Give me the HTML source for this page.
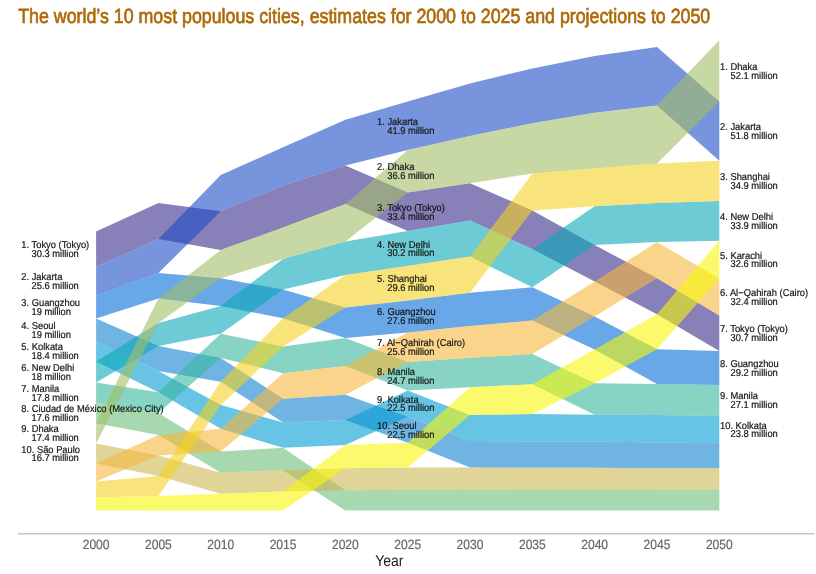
<!DOCTYPE html>
<html><head><meta charset="utf-8"><style>
html,body{margin:0;padding:0;background:#fff;}
body{width:816px;height:574px;overflow:hidden;position:relative;}
svg{position:absolute;left:0;top:0;}
text{text-rendering:geometricPrecision;}
.lb{font-family:"Liberation Sans",sans-serif;font-size:10px;fill:#151515;stroke:#151515;stroke-width:0.2px;}
.tk{font-family:"Liberation Sans",sans-serif;font-size:13.4px;fill:#666;stroke:#666;stroke-width:0.2px;}
.yr{font-family:"Liberation Sans",sans-serif;font-size:15.7px;fill:#222;}
.ti{font-family:"Liberation Sans",sans-serif;font-size:20.5px;font-weight:normal;fill:#ae6a08;stroke:#ae6a08;stroke-width:0.7px;}
</style></head><body>
<svg width="816" height="574" viewBox="0 0 816 574">
<polygon points="96.10,231.40 158.42,202.90 220.74,211.30 283.06,185.60 345.38,165.50 407.70,192.40 470.02,183.20 532.34,210.40 594.66,245.00 656.98,278.30 719.30,315.40 719.30,351.10 656.98,314.30 594.66,281.60 532.34,249.00 470.02,220.60 407.70,231.10 345.38,204.10 283.06,227.40 220.74,250.00 158.42,239.10 96.10,266.70" fill="rgb(57,43,137)" fill-opacity="0.6"/><polygon points="96.10,266.70 158.42,239.10 220.74,175.10 283.06,147.20 345.38,119.80 407.70,101.50 470.02,83.50 532.34,68.40 594.66,55.90 656.98,47.10 719.30,101.50 719.30,160.70 656.98,105.60 594.66,112.80 532.34,123.30 470.02,136.00 407.70,150.00 345.38,165.50 283.06,185.60 220.74,211.30 158.42,273.10 96.10,295.70" fill="rgb(30,77,197)" fill-opacity="0.6"/><polygon points="96.10,295.70 158.42,273.10 220.74,278.30 283.06,289.60 345.38,307.60 407.70,300.40 470.02,292.80 532.34,287.20 594.66,316.60 656.98,349.30 719.30,351.10 719.30,384.90 656.98,384.00 594.66,349.60 532.34,320.60 470.02,326.00 407.70,332.40 345.38,338.00 283.06,318.20 220.74,306.00 158.42,298.50 96.10,318.40" fill="rgb(3,110,217)" fill-opacity="0.6"/><polygon points="96.10,318.40 158.42,346.10 220.74,357.90 283.06,398.70 345.38,394.80 407.70,416.70 470.02,441.00 532.34,441.60 594.66,441.60 656.98,442.40 719.30,443.20 719.30,468.30 656.98,468.30 594.66,467.80 532.34,467.80 470.02,467.60 407.70,442.80 345.38,420.00 283.06,422.40 220.74,381.80 158.42,371.10 96.10,341.00" fill="rgb(17,130,210)" fill-opacity="0.6"/><polygon points="96.10,341.00 158.42,371.10 220.74,405.00 283.06,422.40 345.38,420.00 407.70,390.60 470.02,415.00 532.34,414.10 594.66,414.80 656.98,415.00 719.30,416.00 719.30,443.20 656.98,442.40 594.66,441.60 532.34,441.60 470.02,441.00 407.70,416.70 345.38,445.00 283.06,447.70 220.74,428.80 158.42,392.30 96.10,361.40" fill="rgb(3,157,210)" fill-opacity="0.6"/><polygon points="96.10,361.40 158.42,322.90 220.74,306.00 283.06,259.00 345.38,241.50 407.70,231.10 470.02,220.60 532.34,249.00 594.66,206.30 656.98,203.00 719.30,200.90 719.30,240.70 656.98,242.10 594.66,245.00 532.34,287.20 470.02,256.60 407.70,266.10 345.38,275.00 283.06,289.60 220.74,333.70 158.42,346.10 96.10,382.40" fill="rgb(10,168,183)" fill-opacity="0.6"/><polygon points="96.10,382.40 158.42,392.30 220.74,333.70 283.06,346.60 345.38,338.00 407.70,362.00 470.02,357.70 532.34,354.10 594.66,383.30 656.98,384.00 719.30,384.90 719.30,416.00 656.98,415.00 594.66,414.80 532.34,384.30 470.02,387.20 407.70,390.60 345.38,366.10 283.06,373.20 220.74,357.90 158.42,413.00 96.10,403.00" fill="rgb(57,183,157)" fill-opacity="0.6"/><polygon points="96.10,403.00 158.42,413.00 220.74,451.60 283.06,447.70 345.38,490.20 407.70,489.70 470.02,489.40 532.34,489.80 594.66,489.80 656.98,489.80 719.30,489.50 719.30,510.50 656.98,510.50 594.66,510.50 532.34,510.50 470.02,510.50 407.70,510.50 345.38,510.50 283.06,470.20 220.74,472.70 158.42,435.00 96.10,423.30" fill="rgb(110,190,123)" fill-opacity="0.6"/><polygon points="96.10,423.30 158.42,298.50 220.74,250.00 283.06,227.40 345.38,204.10 407.70,150.00 470.02,136.00 532.34,123.30 594.66,112.80 656.98,105.60 719.30,40.20 719.30,101.50 656.98,163.40 594.66,168.50 532.34,173.50 470.02,183.20 407.70,192.40 345.38,241.50 283.06,259.00 220.74,278.30 158.42,322.90 96.10,443.60" fill="rgb(163,190,103)" fill-opacity="0.6"/><polygon points="96.10,443.60 158.42,455.50 220.74,472.70 283.06,470.20 345.38,468.30 407.70,467.40 470.02,467.60 532.34,467.80 594.66,467.80 656.98,468.30 719.30,468.30 719.30,489.50 656.98,489.80 594.66,489.80 532.34,489.80 470.02,489.40 407.70,489.70 345.38,490.20 283.06,491.60 220.74,493.70 158.42,476.00 96.10,463.50" fill="rgb(203,183,83)" fill-opacity="0.6"/><polygon points="96.10,463.50 158.42,435.00 220.74,428.80 283.06,373.20 345.38,366.10 407.70,332.40 470.02,326.00 532.34,320.60 594.66,281.60 656.98,242.10 719.30,278.60 719.30,315.40 656.98,278.30 594.66,316.60 532.34,354.10 470.02,357.70 407.70,362.00 345.38,394.80 283.06,398.70 220.74,451.60 158.42,455.50 96.10,481.50" fill="rgb(247,183,60)" fill-opacity="0.6"/><polygon points="96.10,481.50 158.42,476.00 220.74,381.80 283.06,318.20 345.38,275.00 407.70,266.10 470.02,256.60 532.34,173.50 594.66,168.50 656.98,163.40 719.30,160.70 719.30,200.90 656.98,203.00 594.66,206.30 532.34,210.40 470.02,292.80 407.70,300.40 345.38,307.60 283.06,346.60 220.74,405.00 158.42,496.10 96.10,497.20" fill="rgb(243,210,33)" fill-opacity="0.6"/><polygon points="96.10,497.20 158.42,496.10 220.74,493.70 283.06,491.60 345.38,445.00 407.70,442.80 470.02,387.20 532.34,384.30 594.66,349.60 656.98,314.30 719.30,240.70 719.30,278.60 656.98,349.30 594.66,383.30 532.34,414.10 470.02,415.00 407.70,467.40 345.38,468.30 283.06,510.50 220.74,510.50 158.42,510.50 96.10,510.50" fill="rgb(247,247,10)" fill-opacity="0.6"/>
<g opacity="0.999"><text x="18.2" y="22.8" class="ti" transform="translate(18.2,0) scale(0.868,1) translate(-18.2,0)">The world’s 10 most populous cities, estimates for 2000 to 2025 and projections to 2050</text><g transform="translate(21.3,0) scale(0.935,1) translate(-21.3,0)"><text x="21.3" y="248.05" class="lb">1. Tokyo (Tokyo)</text><text x="32.20909090909091" y="256.85" class="lb">30.3 million</text><text x="21.3" y="280.20" class="lb">2. Jakarta</text><text x="32.20909090909091" y="289.00" class="lb">25.6 million</text><text x="21.3" y="306.05" class="lb">3. Guangzhou</text><text x="32.20909090909091" y="314.85" class="lb">19 million</text><text x="21.3" y="328.70" class="lb">4. Seoul</text><text x="32.20909090909091" y="337.50" class="lb">19 million</text><text x="21.3" y="350.20" class="lb">5. Kolkata</text><text x="32.20909090909091" y="359.00" class="lb">18.4 million</text><text x="21.3" y="370.90" class="lb">6. New Delhi</text><text x="32.20909090909091" y="379.70" class="lb">18 million</text><text x="21.3" y="391.70" class="lb">7. Manila</text><text x="32.20909090909091" y="400.50" class="lb">17.8 million</text><text x="21.3" y="412.15" class="lb">8. Ciudad de México (Mexico City)</text><text x="32.20909090909091" y="420.95" class="lb">17.6 million</text><text x="21.3" y="432.45" class="lb">9. Dhaka</text><text x="32.20909090909091" y="441.25" class="lb">17.4 million</text><text x="21.3" y="452.55" class="lb">10. São Paulo</text><text x="32.20909090909091" y="461.35" class="lb">16.7 million</text></g><g transform="translate(377,0) scale(0.935,1) translate(-377,0)"><text x="377" y="124.75" class="lb">1. Jakarta</text><text x="387.90909090909093" y="133.55" class="lb">41.9 million</text><text x="377" y="170.20" class="lb">2. Dhaka</text><text x="387.90909090909093" y="179.00" class="lb">36.6 million</text><text x="377" y="210.75" class="lb">3. Tokyo (Tokyo)</text><text x="387.90909090909093" y="219.55" class="lb">33.4 million</text><text x="377" y="247.60" class="lb">4. New Delhi</text><text x="387.90909090909093" y="256.40" class="lb">30.2 million</text><text x="377" y="282.25" class="lb">5. Shanghai</text><text x="387.90909090909093" y="291.05" class="lb">29.6 million</text><text x="377" y="315.40" class="lb">6. Guangzhou</text><text x="387.90909090909093" y="324.20" class="lb">27.6 million</text><text x="377" y="346.20" class="lb">7. Al−Qahirah (Cairo)</text><text x="387.90909090909093" y="355.00" class="lb">25.6 million</text><text x="377" y="375.30" class="lb">8. Manila</text><text x="387.90909090909093" y="384.10" class="lb">24.7 million</text><text x="377" y="402.65" class="lb">9. Kolkata</text><text x="387.90909090909093" y="411.45" class="lb">22.5 million</text><text x="377" y="428.75" class="lb">10. Seoul</text><text x="387.90909090909093" y="437.55" class="lb">22.5 million</text></g><g transform="translate(720,0) scale(0.935,1) translate(-720,0)"><text x="720" y="69.85" class="lb">1. Dhaka</text><text x="731.2299465240642" y="78.65" class="lb">52.1 million</text><text x="720" y="130.10" class="lb">2. Jakarta</text><text x="731.2299465240642" y="138.90" class="lb">51.8 million</text><text x="720" y="179.80" class="lb">3. Shanghai</text><text x="731.2299465240642" y="188.60" class="lb">34.9 million</text><text x="720" y="219.80" class="lb">4. New Delhi</text><text x="731.2299465240642" y="228.60" class="lb">33.9 million</text><text x="720" y="258.65" class="lb">5. Karachi</text><text x="731.2299465240642" y="267.45" class="lb">32.6 million</text><text x="720" y="296.00" class="lb">6. Al−Qahirah (Cairo)</text><text x="731.2299465240642" y="304.80" class="lb">32.4 million</text><text x="720" y="332.25" class="lb">7. Tokyo (Tokyo)</text><text x="731.2299465240642" y="341.05" class="lb">30.7 million</text><text x="720" y="367.00" class="lb">8. Guangzhou</text><text x="731.2299465240642" y="375.80" class="lb">29.2 million</text><text x="720" y="399.45" class="lb">9. Manila</text><text x="731.2299465240642" y="408.25" class="lb">27.1 million</text><text x="720" y="428.60" class="lb">10. Kolkata</text><text x="731.2299465240642" y="437.40" class="lb">23.8 million</text></g>
<line x1="17.8" y1="533.7" x2="814.5" y2="533.7" stroke="#c6c6c6" stroke-width="1.5"/><text x="96.10" y="549.1" class="tk" text-anchor="middle" transform="translate(96.10,0) scale(0.9,1) translate(-96.10,0)">2000</text><text x="158.42" y="549.1" class="tk" text-anchor="middle" transform="translate(158.42,0) scale(0.9,1) translate(-158.42,0)">2005</text><text x="220.74" y="549.1" class="tk" text-anchor="middle" transform="translate(220.74,0) scale(0.9,1) translate(-220.74,0)">2010</text><text x="283.06" y="549.1" class="tk" text-anchor="middle" transform="translate(283.06,0) scale(0.9,1) translate(-283.06,0)">2015</text><text x="345.38" y="549.1" class="tk" text-anchor="middle" transform="translate(345.38,0) scale(0.9,1) translate(-345.38,0)">2020</text><text x="407.70" y="549.1" class="tk" text-anchor="middle" transform="translate(407.70,0) scale(0.9,1) translate(-407.70,0)">2025</text><text x="470.02" y="549.1" class="tk" text-anchor="middle" transform="translate(470.02,0) scale(0.9,1) translate(-470.02,0)">2030</text><text x="532.34" y="549.1" class="tk" text-anchor="middle" transform="translate(532.34,0) scale(0.9,1) translate(-532.34,0)">2035</text><text x="594.66" y="549.1" class="tk" text-anchor="middle" transform="translate(594.66,0) scale(0.9,1) translate(-594.66,0)">2040</text><text x="656.98" y="549.1" class="tk" text-anchor="middle" transform="translate(656.98,0) scale(0.9,1) translate(-656.98,0)">2045</text><text x="719.30" y="549.1" class="tk" text-anchor="middle" transform="translate(719.30,0) scale(0.9,1) translate(-719.30,0)">2050</text><text x="375.2" y="566" class="yr" transform="translate(375.2,0) scale(0.89,1) translate(-375.2,0)">Year</text></g>
</svg>
</body></html>
